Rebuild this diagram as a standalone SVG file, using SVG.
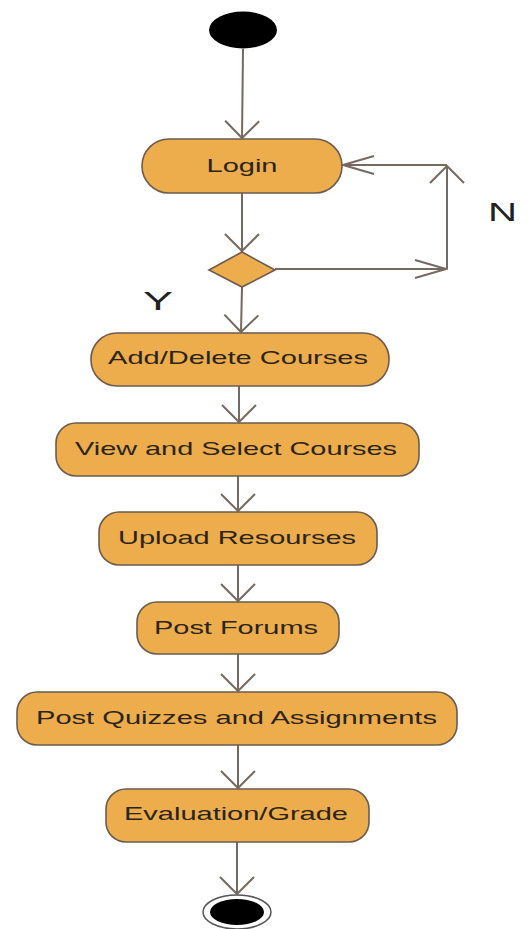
<svg xmlns="http://www.w3.org/2000/svg" width="530" height="929" viewBox="0 0 530 929">
<style>
.act{fill:#EDAD4D;stroke:#6a5c4e;stroke-width:1.6}
.lbl{font-family:"Liberation Sans",Arial,sans-serif;font-size:19px;fill:#2b2418;text-anchor:middle}
.yn{font-family:"Liberation Sans",Arial,sans-serif;font-size:26px;fill:#222;text-anchor:middle}
.edge{fill:none;stroke:#76695f;stroke-width:2}
</style>
<defs>
<marker id="av" markerUnits="userSpaceOnUse" viewBox="-20 -20 22 40" refX="0" refY="0" markerWidth="22" markerHeight="40" orient="auto">
<path d="M-17,-17 L0,0 L-17,17" fill="none" stroke="#76695f" stroke-width="2"/>
</marker>
<marker id="ah" markerUnits="userSpaceOnUse" viewBox="-34 -12 36 24" refX="0" refY="0" markerWidth="36" markerHeight="24" orient="auto">
<path d="M-31,-9 L0,0 L-31,9" fill="none" stroke="#76695f" stroke-width="2"/>
</marker>
</defs>
<rect width="530" height="929" fill="#fff"/>
<g id="connectors">
<line class="edge" x1="243" y1="49" x2="242" y2="138" marker-end="url(#av)"/>
<line class="edge" x1="242" y1="193" x2="242" y2="251" marker-end="url(#av)"/>
<polyline class="edge" points="275,269 446,269" marker-end="url(#ah)"/>
<polyline class="edge" points="447,269 447,166" marker-end="url(#av)"/>
<polyline class="edge" points="447,165 343,165" marker-end="url(#ah)"/>
<line class="edge" x1="242" y1="287" x2="241" y2="332" marker-end="url(#av)"/>
<line class="edge" x1="239" y1="386" x2="239" y2="422" marker-end="url(#av)"/>
<line class="edge" x1="238" y1="476" x2="238" y2="511" marker-end="url(#av)"/>
<line class="edge" x1="238" y1="565" x2="238" y2="601" marker-end="url(#av)"/>
<line class="edge" x1="238" y1="654" x2="238" y2="691" marker-end="url(#av)"/>
<line class="edge" x1="238" y1="745" x2="238" y2="788" marker-end="url(#av)"/>
<line class="edge" x1="237" y1="842" x2="237" y2="894" marker-end="url(#av)"/>
</g>
<g id="start"><ellipse cx="243" cy="30" rx="34" ry="18.5" fill="#000"/></g>
<g id="login"><rect class="act" x="142" y="139" width="200" height="54" rx="27"/><text class="lbl" x="242" y="172" textLength="71" lengthAdjust="spacingAndGlyphs">Login</text></g>
<g id="decision"><polygon class="act" points="242,252 275,270 242,287 209,270"/></g>
<g id="addDelete"><rect class="act" x="91" y="333" width="298" height="53" rx="26"/><text class="lbl" x="238" y="364" textLength="260" lengthAdjust="spacingAndGlyphs">Add/Delete Courses</text></g>
<g id="viewSelect"><rect class="act" x="56" y="423" width="363" height="53" rx="20"/><text class="lbl" x="236" y="455" textLength="322" lengthAdjust="spacingAndGlyphs">View and Select Courses</text></g>
<g id="upload"><rect class="act" x="99" y="512" width="278" height="53" rx="20"/><text class="lbl" x="237" y="544" textLength="238" lengthAdjust="spacingAndGlyphs">Upload Resourses</text></g>
<g id="postForums"><rect class="act" x="137" y="602" width="202" height="52" rx="20"/><text class="lbl" x="236" y="634" textLength="164" lengthAdjust="spacingAndGlyphs">Post Forums</text></g>
<g id="postQuizzes"><rect class="act" x="17" y="692" width="440" height="53" rx="20"/><text class="lbl" x="236.5" y="724" textLength="401" lengthAdjust="spacingAndGlyphs">Post Quizzes and Assignments</text></g>
<g id="evaluation"><rect class="act" x="106" y="789" width="263" height="53" rx="20"/><text class="lbl" x="236" y="820" textLength="224" lengthAdjust="spacingAndGlyphs">Evaluation/Grade</text></g>
<g id="end"><ellipse cx="237" cy="912" rx="34" ry="17" fill="#fff" stroke="#555" stroke-width="1.5"/><ellipse cx="237" cy="912" rx="27" ry="13" fill="#000"/></g>
<text class="yn" x="502.5" y="221" textLength="29" lengthAdjust="spacingAndGlyphs">N</text>
<text class="yn" x="158" y="310" textLength="30" lengthAdjust="spacingAndGlyphs">Y</text>
</svg>
